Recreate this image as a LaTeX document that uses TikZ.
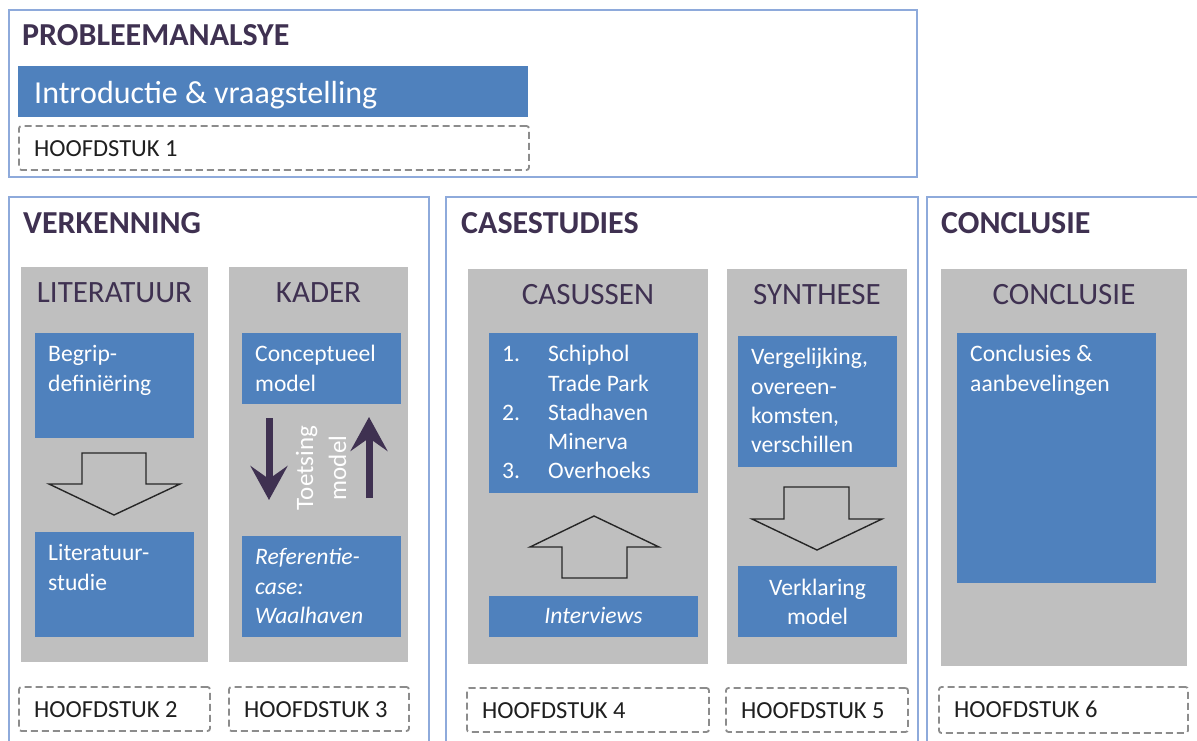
\documentclass[tikz,border=0pt]{standalone}
\usepackage{fontspec}
\setmainfont{Carlito}
\usetikzlibrary{arrows.meta}

\definecolor{framecol}{HTML}{8EAADB}
\definecolor{panelgray}{HTML}{BFBFBF}
\definecolor{boxblue}{HTML}{4F81BD}
\definecolor{headcol}{HTML}{3F3151}
\definecolor{dashcol}{HTML}{8C8C8C}
\definecolor{chapink}{HTML}{1F1F1F}

% rectangle node from its top-left (x1,y1) to bottom-right (x2,y2)
\newcommand\areanode[6]{%
  \node[#1, anchor=north west, minimum width={#5-#3}, minimum height={#6-#4}] (#2) at (#3,#4) {};}

\tikzset{
  frame/.style={draw=framecol, line width=1.4pt, inner sep=0pt, outer sep=0pt},
  panel/.style={fill=panelgray, inner sep=0pt, outer sep=0pt},
  bluebox/.style={fill=boxblue, inner sep=0pt, outer sep=0pt},
  chapbox/.style={draw=dashcol, line width=1.8pt, dash pattern=on 7pt off 4pt,
                  rounded corners=2.5pt, inner sep=0pt, outer sep=0pt},
  sectitle/.style={font=\fontsize{32}{38}\selectfont\bfseries, text=headcol,
                   inner sep=0pt, anchor=base west},
  coltitle/.style={font=\fontsize{31}{37}\selectfont, text=headcol,
                   inner sep=0pt, anchor=base},
  bodytext/.style={font=\fontsize{23.6}{29.3}\selectfont, text=white,
                   inner sep=0pt, align=left, anchor=north west},
  chaptext/.style={font=\fontsize{24.5}{29}\selectfont, text=chapink,
                   inner sep=0pt, anchor=base west},
  blockarrow/.style={draw=black!85, line width=1.4pt, line join=miter},
  testarrow/.style={draw=headcol, line width=7pt,
                    -{Stealth[length=34pt, width=37pt, inset=13pt]}},
}

\begin{document}
\begin{tikzpicture}[x=1pt, y=-1pt]
\clip (0,0) rectangle (1197,740);
\fill[white] (0,0) rectangle (1197,740);

% ---------- problem analysis ----------
\areanode{frame}{fprob}{9}{10}{917}{177}
\node[sectitle] (tprob) at (22,45) {PROBLEEMANALSYE};
\areanode{bluebox}{intro}{18}{66}{528}{117}
\node[font=\fontsize{32}{38}\selectfont, text=white, inner sep=0pt, anchor=base west]
  (tintro) at (34,103) {Introductie \& vraagstelling};
\areanode{chapbox}{h1}{19}{126}{529}{170}
\node[chaptext] (th1) at ([xshift=15pt, yshift=-30pt]h1.north west) {HOOFDSTUK 1};

% ---------- section frames ----------
\areanode{frame}{fverk}{9}{197}{429}{760}
\areanode{frame}{fcase}{446}{197}{918}{760}
\areanode{frame}{fconc}{927}{197}{1215}{760}
\node[sectitle] (tverk) at (23,233) {VERKENNING};
\node[sectitle] (tcase) at (461,233) {CASESTUDIES};
\node[sectitle] (tconc) at (941,233) {CONCLUSIE};

% ---------- grey panels ----------
\areanode{panel}{plit}{21}{267}{208}{662}
\areanode{panel}{pkad}{229}{267}{408}{662}
\areanode{panel}{pcas}{468}{269}{708}{664}
\areanode{panel}{psyn}{727}{269}{907}{664}
\areanode{panel}{pcon}{941}{269}{1187}{666}
\node[coltitle] (tlit) at ([yshift=-35pt]plit.north) {LITERATUUR};
\node[coltitle] (tkad) at ([yshift=-35pt]pkad.north) {KADER};
\node[coltitle] (tcas) at ([yshift=-35pt]pcas.north) {CASUSSEN};
\node[coltitle] (tsyn) at ([yshift=-35pt]psyn.north) {SYNTHESE};
\node[coltitle] (tcon) at ([yshift=-35pt]pcon.north) {CONCLUSIE};

% ---------- blue content boxes ----------
\areanode{bluebox}{begrip}{35}{333}{194}{438}
\areanode{bluebox}{litstud}{35}{532}{194}{637}
\areanode{bluebox}{concept}{242}{333}{401}{404}
\areanode{bluebox}{refcase}{242}{536}{401}{637}
\areanode{bluebox}{caslist}{489}{333}{698}{493}
\areanode{bluebox}{interv}{489}{596}{698}{637}
\areanode{bluebox}{vergel}{738}{336}{897}{467}
\areanode{bluebox}{verkl}{738}{566}{897}{637}
\areanode{bluebox}{conclbox}{957}{333}{1156}{583}

\node[bodytext] (tbegrip) at ([xshift=13pt, yshift=-8pt]begrip.north west)
  {\strut Begrip-\\definiëring};
\node[bodytext] (tlitstud) at ([xshift=13pt, yshift=-8pt]litstud.north west)
  {\strut Literatuur-\\studie};
\node[bodytext] (tconcept) at ([xshift=13pt, yshift=-8pt]concept.north west)
  {\strut Conceptueel\\model};
\node[bodytext, font=\fontsize{23.6}{29.3}\selectfont\itshape] (trefcase)
  at ([xshift=13pt, yshift=-8pt]refcase.north west)
  {\strut Referentie-\\case:\\Waalhaven};
\node[bodytext] (tcaslist) at ([xshift=13pt, yshift=-8pt]caslist.north west)
  {\strut\makebox[46pt][l]{1.}Schiphol\\
   \hspace*{46pt}Trade Park\\
   \makebox[46pt][l]{2.}Stadhaven\\
   \hspace*{46pt}Minerva\\
   \makebox[46pt][l]{3.}Overhoeks};
\node[bodytext, font=\fontsize{23.6}{29.3}\selectfont\itshape, anchor=base]
  (tinterv) at ([yshift=-27pt]interv.north) {Interviews};
\node[bodytext] (tvergel) at ([xshift=13pt, yshift=-8pt]vergel.north west)
  {\strut Vergelijking,\\overeen-\\komsten,\\verschillen};
\node[bodytext, align=center, anchor=north] (tverkl)
  at ([yshift=-8.5pt]verkl.north) {\strut Verklaring\\model};
\node[bodytext] (tconcl) at ([xshift=13pt, yshift=-8pt]conclbox.north west)
  {\strut Conclusies \&\\aanbevelingen};

% ---------- outlined block arrows ----------
\draw[blockarrow] (82,453) -- (146,453) -- (146,484) -- (180,484) -- (114,515)
  -- (49,484) -- (82,484) -- cycle;
\draw[blockarrow] (594,516) -- (659,547) -- (627,547) -- (627,578) -- (562,578)
  -- (562,547) -- (530,547) -- cycle;
\draw[blockarrow] (784,487) -- (849,487) -- (849,519) -- (882,519) -- (817,550)
  -- (752,519) -- (784,519) -- cycle;

% ---------- testing loop between model and reference case ----------
\coordinate (downA) at (269,418);
\coordinate (downB) at (269,500);
\coordinate (upA) at (369,498);
\coordinate (upB) at (369,417);
\draw[testarrow] (downA) -- (downB);
\draw[testarrow] (upA) -- (upB);
\node[font=\fontsize{25}{33}\selectfont, text=white, align=center, rotate=90,
      inner sep=0pt] (ttoets) at (321,468) {Toetsing\\model};

% ---------- chapter labels ----------
\areanode{chapbox}{h2}{19}{687}{210}{731}
\areanode{chapbox}{h3}{229}{687}{409}{731}
\areanode{chapbox}{h4}{467}{688}{709}{732}
\areanode{chapbox}{h5}{726}{688}{908}{732}
\areanode{chapbox}{h6}{939}{687}{1188}{733}
\node[chaptext] (th2) at ([xshift=15pt, yshift=-30pt]h2.north west) {HOOFDSTUK 2};
\node[chaptext] (th3) at ([xshift=15pt, yshift=-30pt]h3.north west) {HOOFDSTUK 3};
\node[chaptext] (th4) at ([xshift=15pt, yshift=-30pt]h4.north west) {HOOFDSTUK 4};
\node[chaptext] (th5) at ([xshift=15pt, yshift=-30pt]h5.north west) {HOOFDSTUK 5};
\node[chaptext] (th6) at ([xshift=15pt, yshift=-30pt]h6.north west) {HOOFDSTUK 6};
\end{tikzpicture}
\end{document}
